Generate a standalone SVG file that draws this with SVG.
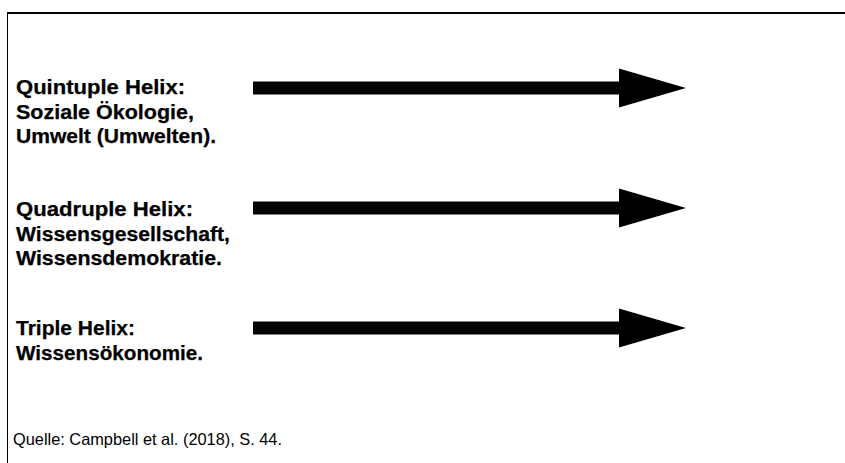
<svg xmlns="http://www.w3.org/2000/svg" width="845" height="463" viewBox="0 0 845 463">
<style>
.lbl{font-family:"Liberation Sans",Arial,sans-serif;font-size:20px;font-weight:bold;fill:#000;stroke:#000;stroke-width:0.25}
.src{font-family:"Liberation Sans",Arial,sans-serif;font-size:16.5px;fill:#000}
.arr{fill:#000}
.frame{stroke:#000;fill:none}
</style>
<rect width="845" height="463" fill="#fff"/>
<g id="frame">
<line class="frame" x1="7" y1="13" x2="845" y2="13" stroke-width="2"/>
<line class="frame" x1="7.5" y1="12" x2="7.5" y2="463" stroke-width="1"/>
</g>
<g id="node-quintuple">
<text class="lbl" x="16" y="94" textLength="169" lengthAdjust="spacingAndGlyphs">Quintuple Helix:</text>
<text class="lbl" x="16" y="118.5" textLength="178" lengthAdjust="spacingAndGlyphs">Soziale Ökologie,</text>
<text class="lbl" x="16" y="143" textLength="200" lengthAdjust="spacingAndGlyphs">Umwelt (Umwelten).</text>
</g>
<g id="node-quadruple">
<text class="lbl" x="16" y="216" textLength="177" lengthAdjust="spacingAndGlyphs">Quadruple Helix:</text>
<text class="lbl" x="16" y="240.5" textLength="214" lengthAdjust="spacingAndGlyphs">Wissensgesellschaft,</text>
<text class="lbl" x="16" y="265" textLength="206" lengthAdjust="spacingAndGlyphs">Wissensdemokratie.</text>
</g>
<g id="node-triple">
<text class="lbl" x="16" y="335" textLength="119" lengthAdjust="spacingAndGlyphs">Triple Helix:</text>
<text class="lbl" x="16" y="359.5" textLength="187" lengthAdjust="spacingAndGlyphs">Wissensökonomie.</text>
</g>
<g id="connectors">
<polygon class="arr" points="253,81.5 619,81.5 619,68.5 686,88 619,107.5 619,94.5 253,94.5"/>
<polygon class="arr" points="253,201.5 619,201.5 619,188.5 686,208 619,227.5 619,214.5 253,214.5"/>
<polygon class="arr" points="253,321.5 619,321.5 619,308.5 686,328 619,347.5 619,334.5 253,334.5"/>
</g>
<g id="source">
<text class="src" x="13" y="445" textLength="269" lengthAdjust="spacingAndGlyphs">Quelle: Campbell et al. (2018), S. 44.</text>
</g>
</svg>
